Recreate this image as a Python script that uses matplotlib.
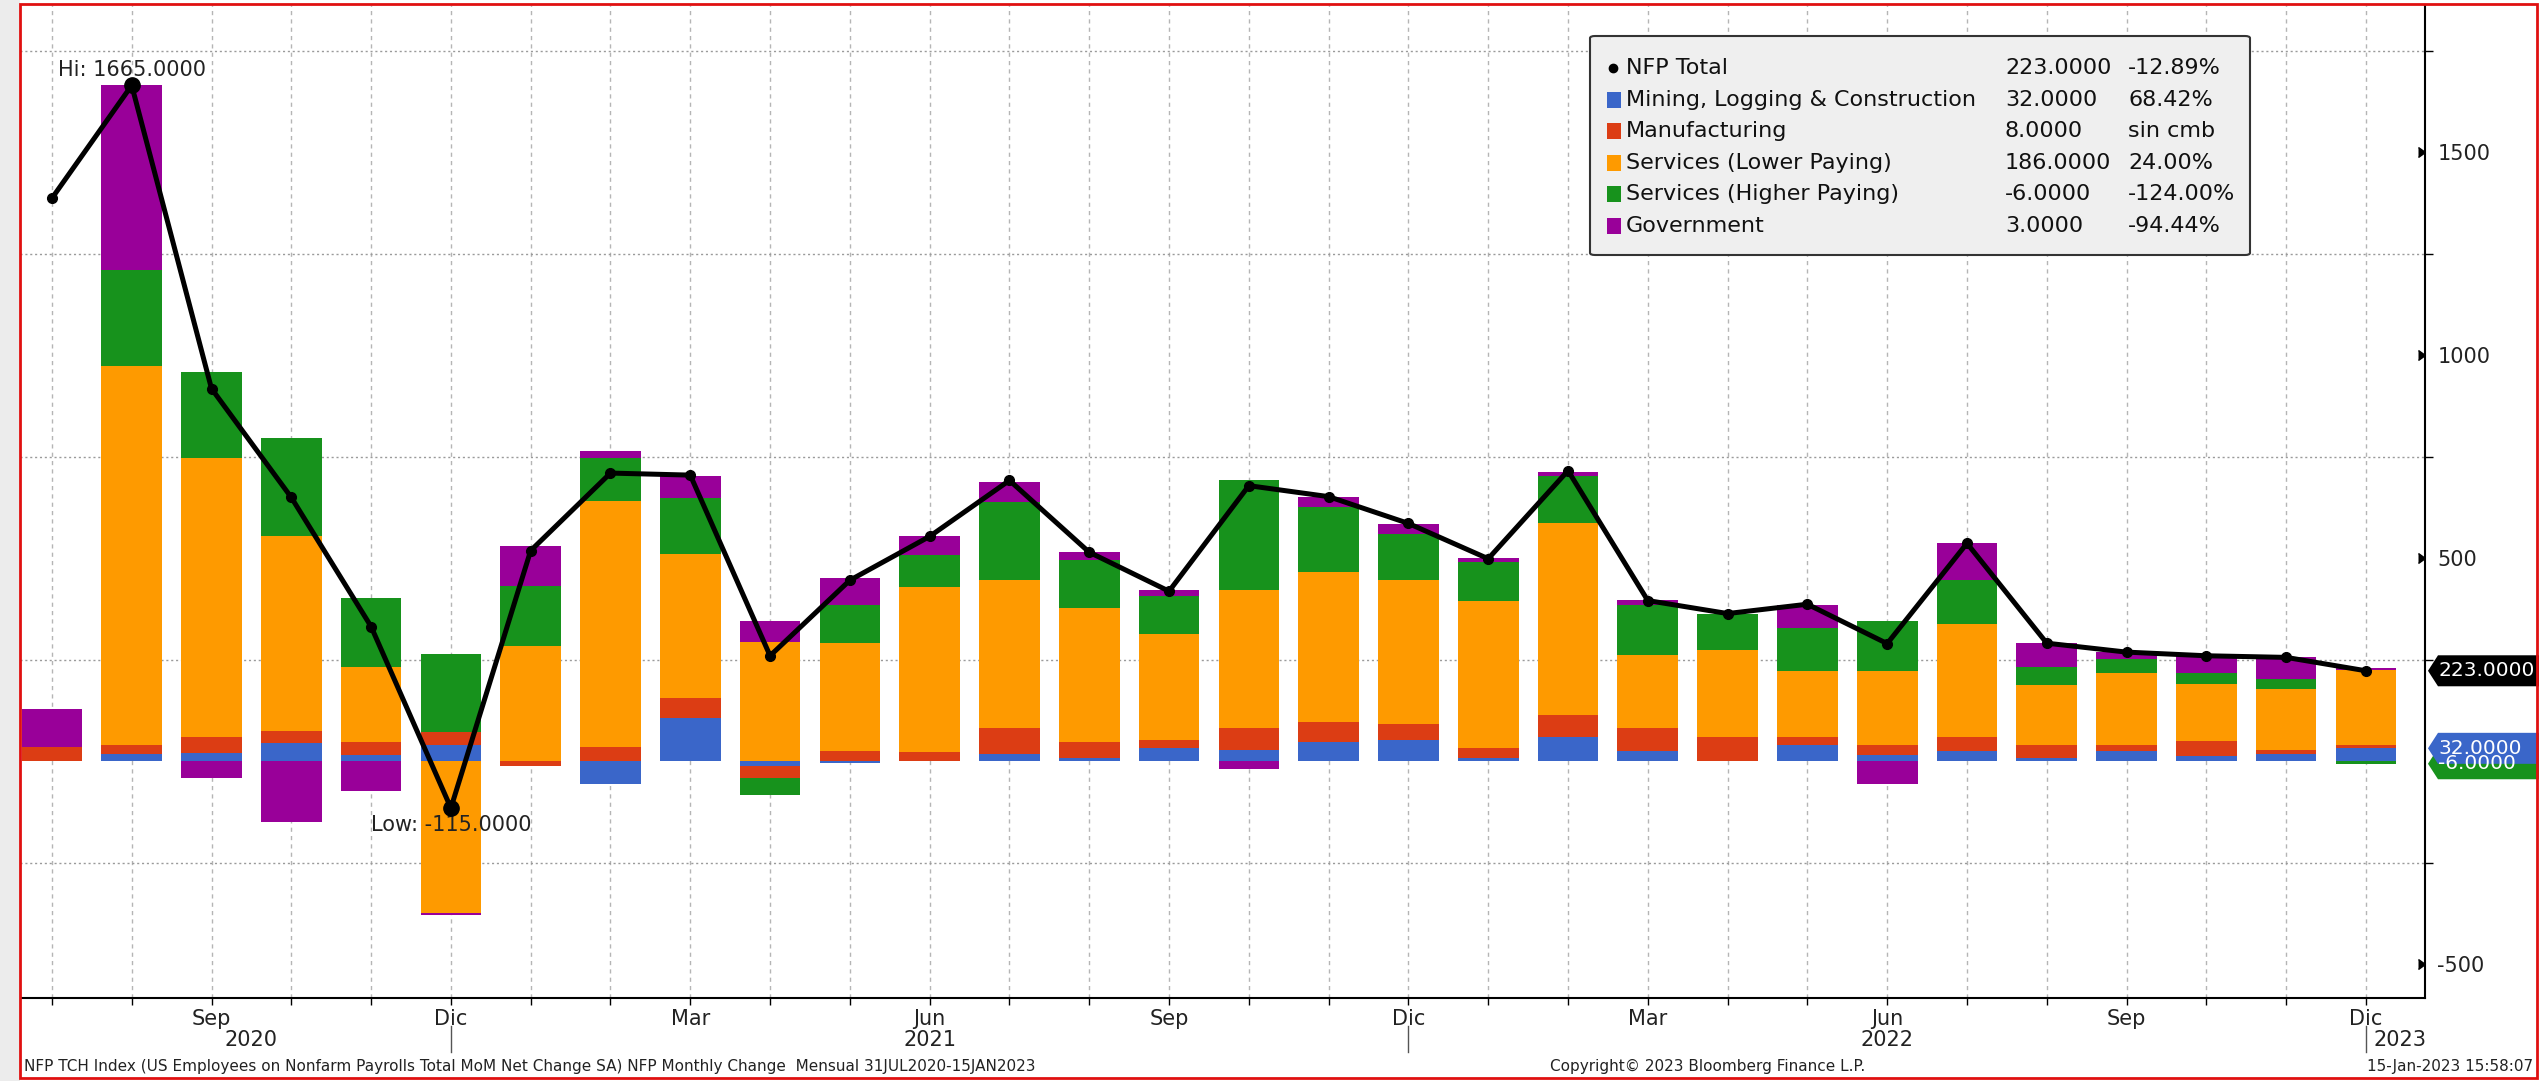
import numpy as np
import matplotlib.pyplot as plt
import matplotlib.transforms as mtransforms
from matplotlib.patches import Rectangle, FancyBboxPatch, Polygon

# tamaño final en pixeles
W, H = 2539, 1081

months = ['Jul', 'Ago', 'Sep', 'Oct', 'Nov', 'Dic',
          'Ene', 'Feb', 'Mar', 'Abr', 'May', 'Jun', 'Jul', 'Ago', 'Sep', 'Oct', 'Nov', 'Dic',
          'Ene', 'Feb', 'Mar', 'Abr', 'May', 'Jun', 'Jul', 'Ago', 'Sep', 'Oct', 'Nov', 'Dic']
first_year = 2020
shown_months = ['Sep', 'Dic', 'Mar', 'Jun']

# componentes (miles de empleos, variacion mensual)
mining    = [0, 17, 20, 45, 16, 41, 0, -57, 107, -12, -5, 0, 18, 7, 32, 29, 48, 53,
             9, 61, 25, 0, 41, 16, 25, 7, 25, 14, 19, 32]
manuf     = [35, 24, 41, 29, 32, 32, -12, 35, 48, -29, 25, 23, 63, 41, 20, 52, 49, 38,
             23, 53, 58, 61, 20, 25, 36, 34, 16, 35, 8, 8]
serv_low  = [0, 934, 686, 481, 184, -373, 284, 606, 355, 294, 266, 407, 365, 330, 262, 340, 369, 355,
             362, 472, 179, 214, 162, 182, 278, 146, 176, 141, 150, 186]
serv_high = [0, 236, 212, 242, 171, 191, 148, 106, 138, -43, 93, 78, 193, 117, 93, 273, 160, 114,
             97, 117, 122, 89, 106, 123, 107, 46, 36, 27, 25, -6]
govt      = [95, 454, -41, -150, -73, -6, 98, 17, 55, 52, 68, 47, 50, 20, 16, -20, 24, 25,
             9, 10, 14, 0, 55, -55, 91, 59, 16, 43, 54, 3]
nfp_total = [1387, 1665, 918, 650, 332, -115, 519, 710, 705, 260, 446, 554, 692, 515, 419, 679, 652, 586,
             499, 716, 396, 364, 387, 290, 537, 291, 269, 260, 256, 223]

names = ['NFP Total', 'Mining, Logging & Construction', 'Manufacturing',
         'Services (Lower Paying)', 'Services (Higher Paying)', 'Government']
colors = ['#000000', '#3a66c9', '#dc3d14', '#fe9a00', '#17921c', '#990099']

footer_left = ('NFP TCH Index (US Employees on Nonfarm Payrolls Total MoM Net Change SA) '
               'NFP Monthly Change  Mensual 31JUL2020-15JAN2023')
footer_mid = 'Copyright\u00a9 2023 Bloomberg Finance L.P.'
footer_right = '15-Jan-2023 15:58:07'


def fx(px):
    return px / W


def fy(py):
    return 1 - py / H


fig = plt.figure(figsize=(W / 100, H / 100), dpi=100, facecolor='white')
fig.patches.append(Rectangle((0, 0), fx(20), 1, transform=fig.transFigure,
                             facecolor='#ececec', edgecolor='none', zorder=0))
ax = fig.add_axes([fx(20), fy(998), fx(2425) - fx(20), fy(5) - fy(998)])
ax.set_facecolor('white')

x = np.arange(len(months))
series = [mining, manuf, serv_low, serv_high, govt]
pos_base = np.zeros(len(x))
neg_base = np.zeros(len(x))
for vals, col in zip(series, colors[1:]):
    v = np.array(vals, dtype=float)
    base = np.where(v >= 0, pos_base, neg_base)
    ax.bar(x, v, width=0.76, bottom=base, color=col, linewidth=0, zorder=2)
    pos_base += np.where(v > 0, v, 0)
    neg_base += np.where(v < 0, v, 0)

ax.plot(x, nfp_total, color='black', lw=3.6, marker='o', ms=7, zorder=4,
        solid_joinstyle='round')

# Hi / Low
i_hi = int(np.argmax(nfp_total))
i_lo = int(np.argmin(nfp_total))
ax.plot([i_hi, i_lo], [nfp_total[i_hi], nfp_total[i_lo]], 'o', color='black', ms=11, zorder=5)
ax.annotate('Hi: %.4f' % nfp_total[i_hi], (i_hi, nfp_total[i_hi]), xytext=(0, 11),
            textcoords='offset points', ha='center', va='center', fontsize=15, color='#222222')
ax.annotate('Low: %.4f' % nfp_total[i_lo], (i_lo, nfp_total[i_lo]), xytext=(0, -12),
            textcoords='offset points', ha='center', va='center', fontsize=15, color='#222222')

ymin, ymax = -583, 1863
ax.set_xlim(-0.40, len(x) - 0.26)
ax.set_ylim(ymin, ymax)

# ejes
for s in ['top', 'left']:
    ax.spines[s].set_visible(False)
ax.spines['right'].set_linewidth(1.5)
ax.spines['bottom'].set_linewidth(1.5)

ax.yaxis.tick_right()
ax.set_yticks([-500, 0, 500, 1000, 1500])
ax.set_yticklabels(['-500', '', '500', '1000', '1500'])
ax.set_yticks(np.arange(-500, 1751, 250), minor=True)
ax.tick_params(axis='y', which='major', length=0, pad=9, labelsize=15, labelcolor='#222222')
ax.tick_params(axis='y', which='minor', length=6, width=1, direction='out')
ax.plot([1.0] * 4, [-500, 500, 1000, 1500], marker=5, ms=7, color='black', ls='none',
        transform=ax.get_yaxis_transform(), clip_on=False, zorder=6)

ax.set_xticks(x)
ax.set_xticklabels([m if m in shown_months else '' for m in months])
ax.tick_params(axis='x', length=5, width=1, direction='out', pad=3, labelsize=15,
               labelcolor='#222222')

ax.yaxis.grid(True, which='minor', linestyle=(0, (1.5, 2)), color='#9a9a9a', lw=1, zorder=0)
ax.xaxis.grid(True, which='major', linestyle=(0, (3, 3)), color='#b5b5b5', lw=1, zorder=0)
ax.set_axisbelow(True)

# años y separadores
ax_h_px = 998 - 5
sep = [i for i, m in enumerate(months) if m == 'Dic']
starts = [0] + sep[:-1]
for k, (a, b) in enumerate(zip(starts, sep)):
    ax.text((a + b) / 2, -42 / ax_h_px, str(first_year + k), transform=ax.get_xaxis_transform(),
            ha='center', va='center', fontsize=15, color='#222222')
for s in sep:
    ax.plot([s, s], [-28 / ax_h_px, -54 / ax_h_px], color='#555555', lw=1,
            transform=ax.get_xaxis_transform(), clip_on=False)
ax.text(sep[-1] + 0.09, -42 / ax_h_px, str(first_year + len(sep)), transform=ax.get_xaxis_transform(),
        ha='left', va='center', fontsize=15, color='#222222')

# etiquetas de ultimo valor a la derecha
ax_w_px = 2425 - 20
upp = (ymax - ymin) / ax_h_px
last_vals = [nfp_total[-1], serv_high[-1], mining[-1]]
last_cols = [colors[0], colors[4], colors[1]]
for v, col in zip(last_vals, last_cols):
    hh = 15.5 * upp
    pts = [(1 + 3 / ax_w_px, v), (1 + 13 / ax_w_px, v + hh), (1 + 140 / ax_w_px, v + hh),
           (1 + 140 / ax_w_px, v - hh), (1 + 13 / ax_w_px, v - hh)]
    ax.add_patch(Polygon(pts, closed=True, transform=ax.get_yaxis_transform(), facecolor=col,
                         edgecolor='none', clip_on=False, zorder=7))
    ax.text(1 + 13 / ax_w_px, v, '%.4f' % v, transform=ax.get_yaxis_transform(), ha='left',
            va='center', fontsize=14.5, color='white', clip_on=False, zorder=8)

# leyenda
fig.patches.append(FancyBboxPatch((fx(1590), fy(255)), fx(2250) - fx(1590), fy(36) - fy(255),
                                  boxstyle='round,pad=0,rounding_size=0.002',
                                  transform=fig.transFigure, facecolor='#efefef',
                                  edgecolor='#333333', lw=1.5, zorder=10))
all_series = [nfp_total] + series
for k, (name, col, vals) in enumerate(zip(names, colors, all_series)):
    yy = fy(68 + k * 31.6)
    if k == 0:
        fig.lines.append(plt.Line2D([fx(1613)], [yy], marker='o', ms=6, color=col,
                                    transform=fig.transFigure, zorder=11))
    else:
        fig.patches.append(Rectangle((fx(1607), yy - 8 / H), fx(14), 16 / H, transform=fig.transFigure,
                                     facecolor=col, edgecolor='none', zorder=11))
    last, prev = vals[-1], vals[-2]
    pct = 'sin cmb' if last == prev else '%.2f%%' % ((last / prev - 1) * 100)
    fig.text(fx(1626), yy, name, ha='left', va='center', fontsize=16, color='#111111', zorder=12)
    fig.text(fx(2005), yy, '%.4f' % last, ha='left', va='center', fontsize=16, color='#111111', zorder=12)
    fig.text(fx(2128), yy, pct, ha='left', va='center', fontsize=16, color='#111111', zorder=12)

# pie
fig.text(fx(24), fy(1066), footer_left, ha='left', va='center', fontsize=11, color='#222222')
fig.text(fx(1550), fy(1066), footer_mid, ha='left', va='center', fontsize=11, color='#222222')
fig.text(fx(2533), fy(1066), footer_right, ha='right', va='center', fontsize=11, color='#222222')

# marco rojo
fig.patches.append(Rectangle((fx(20), fy(1078)), fx(2537) - fx(20), fy(4) - fy(1078),
                             transform=fig.transFigure, fill=False, edgecolor='#e01010', lw=2, zorder=20))

plt.savefig('out.png', dpi=100, facecolor='white')
